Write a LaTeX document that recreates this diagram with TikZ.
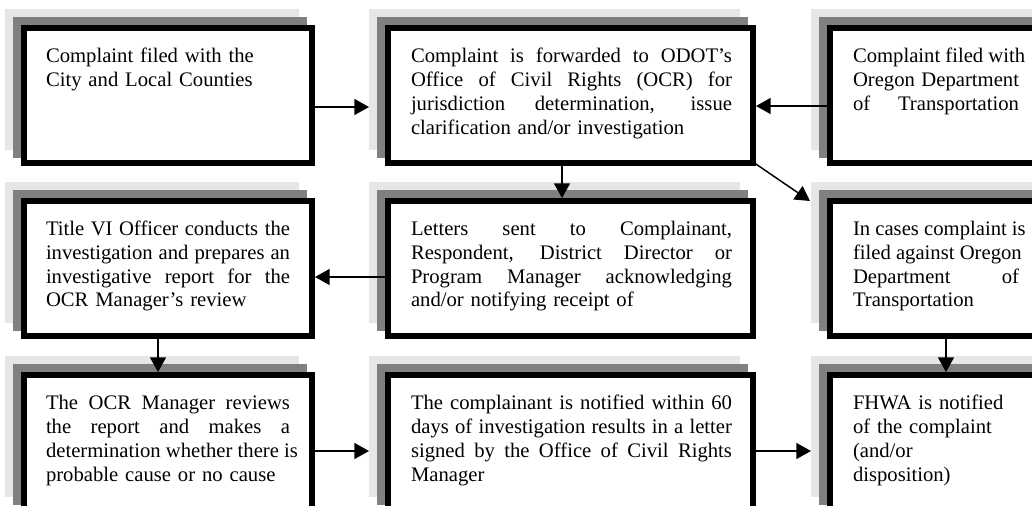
\documentclass[tikz,border=0pt]{standalone}
\usepackage{fontspec}
\setmainfont{Liberation Serif}
\usetikzlibrary{arrows.meta,calc,backgrounds}
\definecolor{lg}{HTML}{E6E6E6}
\definecolor{dg}{HTML}{808080}
\newlength{\jwidth}
\newcommand{\jrow}[1]{\hbox to \jwidth{\spaceskip=0.25em plus 1fil\xspaceskip=0.25em plus 1fil\relax #1}\par}
\begin{document}
\begin{tikzpicture}[x=0.75pt,y=-0.75pt,
  bx/.style 2 args={draw, line width=4.5pt, fill=white, inner sep=0pt, outer sep=2.25pt,
    anchor=north west, minimum width=#1*0.75pt, minimum height=#2*0.75pt},
  txt/.style={anchor=base west, inner sep=0pt, outer sep=0pt,
    font=\fontsize{15.5}{18}\selectfont},
  arr/.style={line width=1.1pt, -{Triangle[length=11pt,width=12pt]}}]
\useasboundingbox (0,0) rectangle (1032,506);
% boxes
\node[bx={288}{135}] (b1) at (21,25) {};
\node[bx={365}{135}] (b2) at (385,25) {};
\node[bx={240}{135}] (b3) at (827,25) {};
\node[bx={288}{135}] (b4) at (21,198) {};
\node[bx={365}{135}] (b5) at (385,198) {};
\node[bx={240}{135}] (b6) at (827,198) {};
\node[bx={288}{135}] (b7) at (21,372) {};
\node[bx={365}{135}] (b8) at (385,372) {};
\node[bx={240}{135}] (b9) at (827,372) {};
\begin{pgfonlayer}{background}
\foreach \bn in {b1,b2,b3,b4,b5,b6,b7,b8,b9}{
  \fill[lg] ($(\bn.north west)+(-16,-16)$) rectangle ($(\bn.south east)+(-16,-16)$);
  \fill[dg] ($(\bn.north west)+(-8,-8)$) rectangle ($(\bn.south east)+(-8,-8)$);
}
\end{pgfonlayer}
% texts
\node[txt, text width=244*0.75pt] (t1) at ($(b1.north west)+(25,38)$)
  {Complaint filed with the\\City and Local Counties};
\node[txt, text width=321*0.75pt] (t2) at ($(b2.north west)+(26,38)$)
  {\setlength{\jwidth}{240.75pt}\jrow{Complaint is forwarded to ODOT’s}\jrow{Office of Civil Rights (OCR) for}\jrow{jurisdiction determination, issue}\hbox{clarification and/or investigation}};
\node[txt, text width=168*0.75pt] (t3) at ($(b3.north west)+(26,38)$)
  {\setlength{\jwidth}{124.5pt}\jrow{Complaint filed with}\jrow{Oregon Department}\jrow{of Transportation}};
\node[txt, text width=244*0.75pt] (t4) at ($(b4.north west)+(25,37)$)
  {\setlength{\jwidth}{183pt}\jrow{Title VI Officer conducts the}\jrow{investigation and prepares an}\jrow{investigative report for the}\hbox{OCR Manager’s review}};
\node[txt, text width=321*0.75pt] (t5) at ($(b5.north west)+(26,37)$)
  {\setlength{\jwidth}{240.75pt}\jrow{Letters sent to Complainant,}\jrow{Respondent, District Director or}\jrow{Program Manager acknowledging}\hbox{and/or notifying receipt of}};
\node[txt, text width=168*0.75pt] (t6) at ($(b6.north west)+(26,37)$)
  {\setlength{\jwidth}{124.5pt}\jrow{In cases complaint is}\jrow{filed against Oregon}\jrow{Department of}\hbox{Transportation}};
\node[txt, text width=244*0.75pt] (t7) at ($(b7.north west)+(25,37)$)
  {\setlength{\jwidth}{183pt}\jrow{The OCR Manager reviews}\jrow{the report and makes a}\jrow{determination whether there is}\hbox{probable cause or no cause}};
\node[txt, text width=321*0.75pt] (t8) at ($(b8.north west)+(26,37)$)
  {\setlength{\jwidth}{240.75pt}\jrow{The complainant is notified within 60}\jrow{days of investigation results in a letter}\jrow{signed by the Office of Civil Rights}\hbox{Manager}};
\node[txt, text width=168*0.75pt] (t9) at ($(b9.north west)+(26,37)$)
  {FHWA is notified\\of the complaint\\(and/or\\disposition)};
% connectors
\draw[arr] ($(b1.north east)+(0,82)$) -- ($(b2.north west)+(-16,82)$);
\draw[arr] ($(b3.north west)+(0,81)$) -- ($(b2.north east)+(0,81)$);
\draw[arr] ($(b2.south west)+(177,0)$) -- ($(b5.north west)+(177,0)$);
\draw[arr] ($(b2.south east)+(-6,-6)$) -- ($(b6.north west)+(-17,3)$);
\draw[arr] ($(b5.north west)+(0,79)$) -- ($(b4.north east)+(0,79)$);
\draw[arr] ($(b4.south west)+(137,0)$) -- ($(b7.north west)+(137,0)$);
\draw[arr] ($(b7.north east)+(0,79)$) -- ($(b8.north west)+(-16,79)$);
\draw[arr] ($(b8.north east)+(0,79)$) -- ($(b9.north west)+(-16,79)$);
\draw[arr] ($(b6.south west)+(119,0)$) -- ($(b9.north west)+(119,0)$);
\end{tikzpicture}
\end{document}
